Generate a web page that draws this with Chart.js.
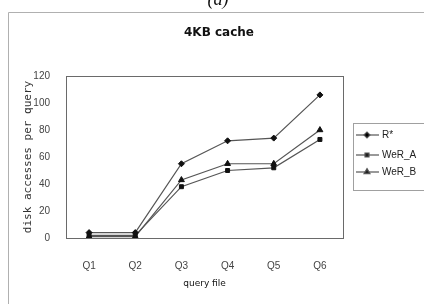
<!DOCTYPE html>
<html>
<head>
<meta charset="utf-8">
<script src="https://cdn.jsdelivr.net/npm/chart.js@4"></script>
<style>
  html, body { margin: 0; padding: 0; background: #fff; }
  #wrap { width: 424px; height: 304px; position: relative; }
</style>
</head>
<body>
<div id="wrap"><canvas id="chart" width="424" height="304"></canvas></div>
<script>
// --- Data ---
const queryFiles = ['Q1', 'Q2', 'Q3', 'Q4', 'Q5', 'Q6'];
const rStar = [4, 4, 55, 72, 74, 106];
const werA = [2, 2, 38, 50, 52, 73];
const werB = [1, 1, 43, 55, 55, 80];
const yTicks = [0, 20, 40, 60, 80, 100, 120];

const chartTitle = '4KB cache';
const panelLabel = '(a)';

// frame, title, plot box and legend drawn on the same canvas
const decorPlugin = {
    id: 'decor',
    beforeDraw(chart) {
        const { ctx } = chart;
        ctx.save();
        ctx.fillStyle = '#ffffff';
        ctx.fillRect(0, 0, chart.width, chart.height);
        // outer figure frame (only top and left edges visible)
        ctx.strokeStyle = '#b0b0b0';
        ctx.lineWidth = 1;
        ctx.beginPath();
        ctx.moveTo(8.5, 304);
        ctx.lineTo(8.5, 12.5);
        ctx.lineTo(424, 12.5);
        ctx.stroke();
        // panel label, cut off at the top
        ctx.fillStyle = '#111';
        ctx.font = 'italic 18px "Liberation Serif"';
        ctx.textAlign = 'center';
        ctx.textBaseline = 'alphabetic';
        ctx.fillText(panelLabel, 218, 5);
        // chart title
        ctx.font = 'bold 12px "DejaVu Sans"';
        ctx.textBaseline = 'middle';
        ctx.fillText(chartTitle, 219, 33);
        ctx.restore();
    },
    beforeDatasetsDraw(chart) {
        const { ctx, chartArea: a } = chart;
        ctx.save();
        ctx.strokeStyle = '#6a6a6a';
        ctx.lineWidth = 1;
        ctx.strokeRect(Math.round(a.left) + 0.5, Math.round(a.top) + 0.5,
            Math.round(a.right - a.left), Math.round(a.bottom - a.top));
        ctx.restore();
    },
    afterDraw(chart) {
        const { ctx } = chart;
        const boxX = 353, boxY = 123;
        ctx.save();
        ctx.strokeStyle = '#a0a0a0';
        ctx.lineWidth = 1;
        ctx.strokeRect(boxX + 0.5, boxY + 0.5, 80, 67);
        const rows = [135, 155, 172];
        chart.data.datasets.forEach((ds, i) => {
            const y = rows[i];
            ctx.strokeStyle = ds.borderColor;
            ctx.lineWidth = 1.2;
            ctx.beginPath();
            ctx.moveTo(356, y);
            ctx.lineTo(379, y);
            ctx.stroke();
            Chart.helpers.drawPoint(ctx, {
                pointStyle: ds.pointStyle,
                radius: ds.pointRadius,
                borderWidth: 1
            }, 367, y);
            ctx.fillStyle = '#222';
            ctx.font = '10px "Liberation Sans"';
            ctx.textAlign = 'left';
            ctx.textBaseline = 'middle';
            ctx.fillText(ds.label, 382, y);
        });
        ctx.restore();
    }
};

const tickFont = { family: '"Liberation Sans"', size: 10 };

function makeSet(label, data, style, radius) {
    return {
        label: label,
        data: data,
        borderColor: '#555555',
        backgroundColor: '#111111',
        pointBorderColor: '#111111',
        borderWidth: 1.2,
        pointStyle: style,
        pointRadius: radius,
        pointBorderWidth: 1,
        tension: 0
    };
}

new Chart(document.getElementById('chart'), {
    type: 'line',
    data: {
        labels: queryFiles,
        datasets: [
            makeSet('R*', rStar, 'rectRot', 3),
            makeSet('WeR_A', werA, 'rect', 2.8),
            makeSet('WeR_B', werB, 'triangle', 3.4)
        ]
    },
    options: {
        responsive: false,
        animation: false,
        devicePixelRatio: 1,
        layout: { padding: { left: 0, right: 81, top: 76, bottom: 0 } },
        plugins: {
            legend: { display: false },
            title: { display: false },
            tooltip: { enabled: false }
        },
        scales: {
            x: {
                type: 'category',
                offset: true,
                grid: { display: false },
                border: { display: false },
                ticks: { font: tickFont, color: '#444', padding: 14, maxRotation: 0 },
                title: {
                    display: true,
                    text: 'query file',
                    font: { family: '"DejaVu Sans"', size: 9 },
                    color: '#111',
                    padding: { top: 0, bottom: 15 }
                },
                afterFit(scale) { scale.height = 66; }
            },
            y: {
                min: 0,
                max: 120,
                grid: { display: false },
                border: { display: false },
                afterBuildTicks(scale) { scale.ticks = yTicks.map(v => ({ value: v })); },
                ticks: { font: tickFont, color: '#444', padding: 8 },
                title: {
                    display: true,
                    text: 'disk accesses per query',
                    font: { family: '"DejaVu Sans Mono"', size: 11 },
                    color: '#333',
                    padding: { top: 22, bottom: 0 }
                },
                afterFit(scale) { scale.width = 66; }
            }
        }
    },
    plugins: [decorPlugin]
});
</script>
</body>
</html>
